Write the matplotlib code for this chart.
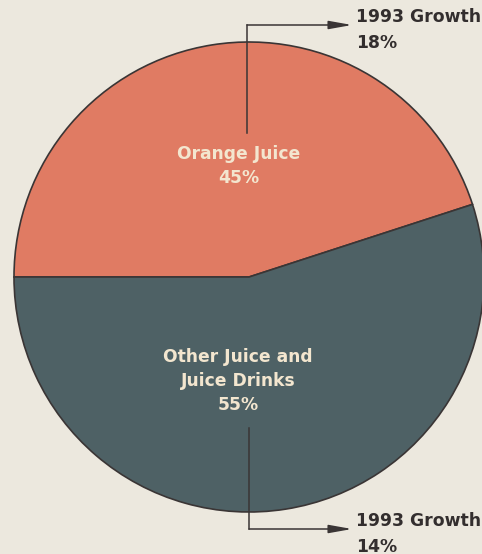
import numpy as np
import matplotlib
matplotlib.use('Agg')
import matplotlib.pyplot as plt

# data
labels = ['Orange Juice\n45%', 'Other Juice and\nJuice Drinks\n55%']
shares = [45, 55]
growth_labels = ['1993 Growth\n18%', '1993 Growth\n14%']
colors = ['#e07b63', '#4e6165']

bg = '#ece8de'
txt = '#f3e6cf'
ink = '#3a3535'

def main():
    fig = plt.figure(figsize=(4.82, 5.54), dpi=100)
    fig.patch.set_facecolor(bg)
    ax = fig.add_axes([0, 0, 1, 1])

    cx, cy, r = 249, 277, 235
    ax.pie(shares, colors=colors, startangle=180, counterclock=False,
           center=(cx, cy), radius=r, frame=True,
           wedgeprops=dict(edgecolor=ink, linewidth=1.2))
    ax.set_xlim(0, 482)
    ax.set_ylim(0, 554)
    ax.set_aspect('equal')
    ax.axis('off')

    font = dict(family='DejaVu Sans', weight='bold', fontsize=12.3, color=txt,
                ha='center', va='center', linespacing=1.45)
    ax.text(239, 554 - 166, labels[0], **font)
    ax.text(238, 554 - 381, labels[1], **font)

    # growth callouts
    lx = [247, 249]
    y0 = [554 - 133, 554 - 428]
    y1 = [554 - 25, 554 - 529]
    for i in range(2):
        ax.plot([lx[i], lx[i]], [y0[i], y1[i]], color=ink, lw=1.1)
        ax.annotate('', xy=(352, y1[i]), xytext=(lx[i], y1[i]),
                    arrowprops=dict(arrowstyle='-|>,head_length=1.4,head_width=0.25',
                                    color=ink, lw=1.1, shrinkA=0, shrinkB=0))
        ax.text(356, y1[i] - 5, growth_labels[i], family='DejaVu Sans',
                weight='bold', fontsize=12.4, color='#332e2e',
                ha='left', va='center', linespacing=1.5)

    fig.savefig('out.png', dpi=100, facecolor=bg)

if __name__ == '__main__':
    main()
